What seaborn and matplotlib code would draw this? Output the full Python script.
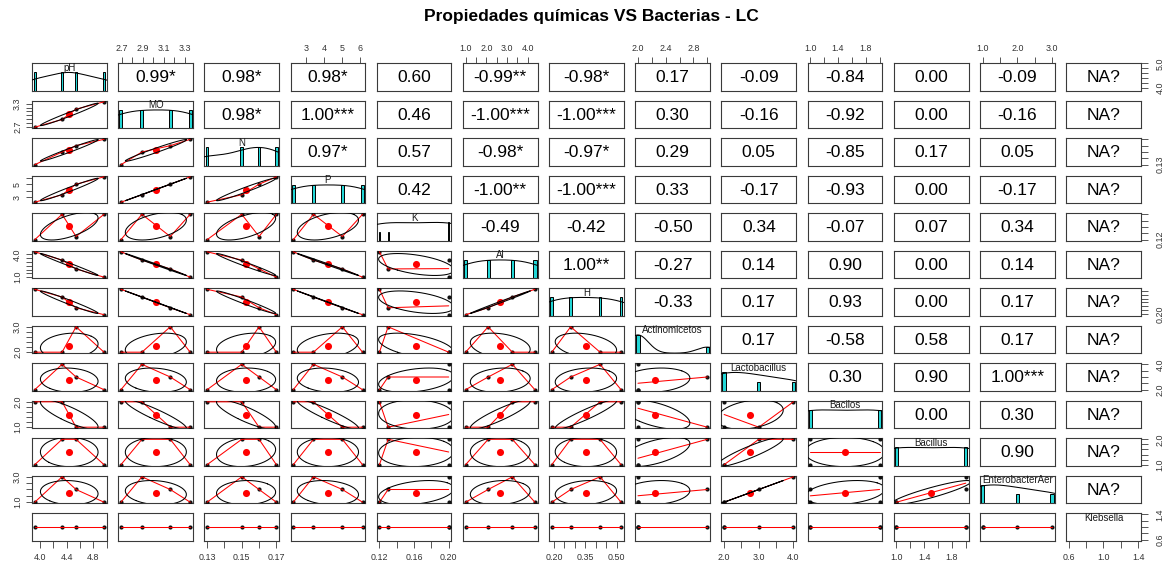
import numpy as np
import matplotlib
matplotlib.use("Agg")
import matplotlib.pyplot as plt
import matplotlib.transforms as mtransforms
from matplotlib.patches import Rectangle
import seaborn as sns

# ---------------------------------------------------------------- data
variables = ["pH", "MO", "N", "P", "K", "Al", "H", "Actinomicetos",
             "Lactobacillus", "Bacilos", "Bacillus", "EnterobacterAer", "Klebsella"]

ph = [3.92, 4.33, 4.54, 4.96]
mo = [2.69, 2.89, 3.16, 3.35]
nitrogen = [0.13, 0.15, 0.16, 0.17]
phosphorus = [2.27, 3.40, 5.02, 6.15]
potassium = [0.12, 0.20, 0.13, 0.20]
aluminium = [4.35, 3.26, 2.09, 1.00]
hydrogen = [0.52, 0.42, 0.28, 0.19]
actinomicetos = [2, 2, 3, 2]
lactobacillus = [2, 4, 3, 2]
bacilos = [2, 2, 1, 1]
bacillus = [1, 2, 2, 1]
enterobacter = [1, 3, 2, 1]
klebsella = [1, 1, 1, 1]

columns = [ph, mo, nitrogen, phosphorus, potassium, aluminium, hydrogen,
           actinomicetos, lactobacillus, bacilos, bacillus, enterobacter, klebsella]

# correlation labels of the upper triangle, row by row
corr_labels = [
    ["0.99*", "0.98*", "0.98*", "0.60", "-0.99**", "-0.98*", "0.17", "-0.09", "-0.84", "0.00", "-0.09", "NA?"],
    ["0.98*", "1.00***", "0.46", "-1.00***", "-1.00***", "0.30", "-0.16", "-0.92", "0.00", "-0.16", "NA?"],
    ["0.97*", "0.57", "-0.98*", "-0.97*", "0.29", "0.05", "-0.85", "0.17", "0.05", "NA?"],
    ["0.42", "-1.00**", "-1.00***", "0.33", "-0.17", "-0.93", "0.00", "-0.17", "NA?"],
    ["-0.49", "-0.42", "-0.50", "0.34", "-0.07", "0.07", "0.34", "NA?"],
    ["1.00**", "-0.27", "0.14", "0.90", "0.00", "0.14", "NA?"],
    ["-0.33", "0.17", "0.93", "0.00", "0.17", "NA?"],
    ["0.17", "-0.58", "0.58", "0.17", "NA?"],
    ["0.30", "0.90", "1.00***", "NA?"],
    ["0.00", "0.30", "NA?"],
    ["0.90", "NA?"],
    ["NA?"],
]

# axis ticks per variable, plus which of them carry a label on the
# horizontal (top/bottom) and on the vertical (left/right) outer axes
tick_values = [
    [4.0, 4.2, 4.4, 4.6, 4.8, 5.0],
    [2.7, 2.8, 2.9, 3.0, 3.1, 3.2, 3.3],
    [0.13, 0.14, 0.15, 0.16, 0.17],
    [3, 4, 5, 6],
    [0.12, 0.14, 0.16, 0.18, 0.20],
    [1.0, 1.5, 2.0, 2.5, 3.0, 3.5, 4.0],
    [0.20, 0.25, 0.30, 0.35, 0.40, 0.45, 0.50],
    [2.0, 2.2, 2.4, 2.6, 2.8, 3.0],
    [2.0, 2.5, 3.0, 3.5, 4.0],
    [1.0, 1.2, 1.4, 1.6, 1.8, 2.0],
    [1.0, 1.2, 1.4, 1.6, 1.8, 2.0],
    [1.0, 1.5, 2.0, 2.5, 3.0],
    [0.6, 0.8, 1.0, 1.2, 1.4],
]
x_tick_labels = [
    ["4.0", "", "4.4", "", "4.8", ""],
    ["2.7", "", "2.9", "", "3.1", "", "3.3"],
    ["0.13", "", "0.15", "", "0.17"],
    ["3", "4", "5", "6"],
    ["0.12", "", "0.16", "", "0.20"],
    ["1.0", "", "2.0", "", "3.0", "", "4.0"],
    ["0.20", "", "", "0.35", "", "", "0.50"],
    ["2.0", "", "2.4", "", "2.8", ""],
    ["2.0", "", "3.0", "", "4.0"],
    ["1.0", "", "1.4", "", "1.8", ""],
    ["1.0", "", "1.4", "", "1.8", ""],
    ["1.0", "", "2.0", "", "3.0"],
    ["0.6", "", "1.0", "", "1.4"],
]
y_tick_labels = [
    ["4.0", "", "", "", "", "5.0"],
    ["2.7", "", "", "", "", "", "3.3"],
    ["0.13", "", "", "", ""],
    ["3", "", "5", ""],
    ["0.12", "", "", "", ""],
    ["1.0", "", "", "", "", "", "4.0"],
    ["0.20", "", "", "", "", "", ""],
    ["2.0", "", "", "", "", "3.0"],
    ["2.0", "", "", "", "4.0"],
    ["1.0", "", "", "", "", "2.0"],
    ["1.0", "", "", "", "", "2.0"],
    ["1.0", "", "", "", "3.0"],
    ["0.6", "", "", "", "1.4"],
]

title = "Propiedades químicas VS Bacterias - LC"


# ---------------------------------------------------------------- helpers
def axis_range(v):
    v = np.asarray(v, float)
    lo, hi = v.min(), v.max()
    if lo == hi:
        t = abs(lo) if lo != 0 else 1.0
        lo, hi = lo - 0.4 * t, hi + 0.4 * t
    pad = 0.04 * (hi - lo)
    return lo - pad, hi + pad


def _lowest(X, Y, n, xs, nleft, nright, w, userw, rw):
    rng = X[n] - X[1]
    h = max(xs - X[nleft], X[nright] - xs)
    h9, h1 = 0.999 * h, 0.001 * h
    a = 0.0
    j = nleft
    while j <= n:
        w[j] = 0.0
        r = abs(X[j] - xs)
        if r <= h9:
            w[j] = 1.0 if r <= h1 else (1 - (r / h) ** 3) ** 3
            if userw:
                w[j] *= rw[j]
            a += w[j]
        elif X[j] > xs:
            break
        j += 1
    nrt = j - 1
    if a <= 0:
        return 0.0, False
    idx = range(nleft, nrt + 1)
    for j in idx:
        w[j] /= a
    if h > 0:
        a = sum(w[j] * X[j] for j in idx)
        b = xs - a
        c = sum(w[j] * (X[j] - a) ** 2 for j in idx)
        if np.sqrt(c) > 0.001 * rng:
            b /= c
            for j in idx:
                w[j] *= b * (X[j] - a) + 1
    return sum(w[j] * Y[j] for j in idx), True


def lowess(x, y, f=2 / 3, nsteps=3):
    """Robust locally weighted smoother (Cleveland's clowess)."""
    x = np.asarray(x, float)
    y = np.asarray(y, float)
    order = np.argsort(x, kind="stable")
    xs_, ys_ = x[order], y[order]
    n = len(xs_)
    delta = 0.01 * (xs_.max() - xs_.min())
    X = np.concatenate([[0.0], xs_])
    Y = np.concatenate([[0.0], ys_])
    fit = np.zeros(n + 1)
    rw = np.ones(n + 1)
    w = np.zeros(n + 1)
    ns = max(2, min(n, int(f * n + 1e-7)))
    it = 1
    while it <= nsteps + 1:
        nleft, nright, last, i = 1, ns, 0, 1
        while True:
            if nright < n:
                d1 = X[i] - X[nleft]
                d2 = X[nright + 1] - X[i]
                if d1 > d2:
                    nleft += 1
                    nright += 1
                    continue
            val, ok = _lowest(X, Y, n, X[i], nleft, nright, w, it > 1, rw)
            fit[i] = val if ok else Y[i]
            if last < i - 1:
                denom = X[i] - X[last]
                for j in range(last + 1, i):
                    alpha = (X[j] - X[last]) / denom
                    fit[j] = alpha * fit[i] + (1 - alpha) * fit[last]
            last = i
            cut = X[last] + delta
            i = last + 1
            while i <= n:
                if X[i] > cut:
                    break
                if X[i] == X[last]:
                    fit[i] = fit[last]
                    last = i
                i += 1
            i = max(last + 1, i - 1)
            if last >= n:
                break
        res = Y[1:] - fit[1:]
        sc = np.mean(np.abs(res))
        if it > nsteps:
            break
        r = np.abs(res)
        srt = np.sort(r)
        m1 = n // 2
        cmad = 3 * (srt[m1] + srt[n - m1 - 1]) if n % 2 == 0 else 6 * srt[m1]
        if cmad < 1e-7 * sc:
            break
        for k in range(n):
            if r[k] <= 0.001 * cmad:
                rw[k + 1] = 1.0
            elif r[k] <= 0.999 * cmad:
                rw[k + 1] = (1 - (r[k] / cmad) ** 2) ** 2
            else:
                rw[k + 1] = 0.0
        it += 1
    return xs_, fit[1:]


def density_curve(v):
    v = np.asarray(v, float)
    q1, q3 = np.percentile(v, [25, 75])
    bw = 1.06 * min(v.std(ddof=1), (q3 - q1) / 1.34) * len(v) ** (-0.2)
    if not bw > 0:
        return None
    grid = np.linspace(v.min() - 3 * bw, v.max() + 3 * bw, 512)
    dens = np.exp(-0.5 * ((grid[:, None] - v[None, :]) / bw) ** 2).sum(axis=1)
    return grid, dens / dens.max()


def correlation_ellipse(x, y, segments=51):
    x = np.asarray(x, float)
    y = np.asarray(y, float)
    xs, ys = x.std(ddof=1), y.std(ddof=1)
    if xs == 0 or ys == 0:
        return None
    r = np.corrcoef(x, y)[0, 1]
    theta = (np.sign(r) if abs(r) > 0 else 1.0) / np.sqrt(2)
    ang = np.arange(segments + 1) * 2 * np.pi / segments
    circle = np.column_stack([np.cos(ang), np.sin(ang)])
    shape = np.diag([np.sqrt(1 + r), np.sqrt(1 - r)]) @ np.array([[theta, theta], [-theta, theta]])
    e = circle @ shape
    return x.mean(), y.mean(), e[:, 0] * xs + x.mean(), e[:, 1] * ys + y.mean()


# ---------------------------------------------------------------- figure
sns.set_theme(style="white")
plt.rcParams["font.family"] = ["Liberation Sans", "DejaVu Sans"]

W, H = 1166, 565
fig = plt.figure(figsize=(W / 100, H / 100), dpi=100)
fig.patch.set_facecolor("white")

X0, XP, PW = 32.0, 86.17, 74.8
Y0, YP, PHT = 63.3, 37.5, 27.4
PX = 0.72  # points per pixel

frame_color = "#3a3a3a"
tick_color = "#3a3a3a"
label_color = "#333333"
hist_color = "#22d6d6"
nvar = len(variables)

for i in range(nvar):
    for j in range(nvar):
        left = X0 + j * XP
        top = Y0 + i * YP
        ax = fig.add_axes([left / W, 1 - (top + PHT) / H, PW / W, PHT / H])
        ax.set_facecolor("white")
        ax.grid(False)
        for sp in ax.spines.values():
            sp.set_visible(True)
            sp.set_color(frame_color)
            sp.set_linewidth(0.8)

        xr = axis_range(columns[j])
        yr = axis_range(columns[i])
        ax.set_xlim(*xr)
        ax.set_ylim(*yr)

        xv = np.asarray(columns[j], float)
        yv = np.asarray(columns[i], float)

        if i == j:
            # histogram of the distinct values with a scaled density curve
            trans = mtransforms.blended_transform_factory(ax.transData, ax.transAxes)
            vals, counts = np.unique(xv, return_counts=True)
            if len(vals) > 1:
                half = np.min(np.diff(vals)) * (len(vals) - 1) / 41
                hts = counts / counts.max()
                for v, hgt in zip(vals, hts):
                    ax.add_patch(Rectangle((v - half, 0), 2 * half, hgt / 1.5,
                                           transform=trans, facecolor=hist_color,
                                           edgecolor="black", linewidth=0.7, zorder=2))
                dc = density_curve(xv)
                if dc is not None:
                    ax.plot(dc[0], dc[1] / 1.5, color="black", lw=0.75,
                            transform=trans, zorder=3)
            ax.text(0.5, 0.833, variables[i], transform=ax.transAxes,
                    ha="center", va="center", fontsize=7, color="#1a1a1a", zorder=4)
        elif i < j:
            ax.text(0.5, 0.47, corr_labels[i][j - i - 1], transform=ax.transAxes,
                    ha="center", va="center", fontsize=12.5, color="black")
        else:
            sns.scatterplot(x=xv, y=yv, ax=ax, color="#111111", s=9,
                            linewidth=0, legend=False, zorder=3)
            lx, ly = lowess(xv, yv)
            ax.plot(lx, ly, color="#ff0000", lw=0.75, zorder=4)
            ell = correlation_ellipse(xv, yv)
            if ell is not None:
                mx, my, ex, ey = ell
                ax.scatter([mx], [my], s=26, color="#ff0000", linewidth=0, zorder=5)
                ax.plot(ex, ey, color="black", lw=0.75, zorder=6)

        # outer axes
        ax.set_xticks(tick_values[j])
        ax.set_yticks(tick_values[i])
        show_bottom = (i == nvar - 1) and (j % 2 == 0)
        show_top = (i == 0) and (j % 2 == 1)
        show_left = (j == 0) and (i % 2 == 1)
        show_right = (j == nvar - 1) and (i % 2 == 0)

        ax.set_xticklabels(x_tick_labels[j])
        ax.set_yticklabels(y_tick_labels[i])
        ax.tick_params(axis="both", which="both", direction="out",
                       length=6.5 * PX, width=0.6, color=tick_color,
                       labelsize=6.4, labelcolor=label_color)
        ax.tick_params(axis="x", bottom=show_bottom, labelbottom=show_bottom,
                       top=show_top, labeltop=show_top)
        ax.tick_params(axis="y", left=show_left, labelleft=show_left,
                       right=show_right, labelright=show_right, labelrotation=90)
        if show_bottom:
            ax.tick_params(axis="x", pad=5.7 * PX)
        if show_top:
            ax.tick_params(axis="x", pad=3.7 * PX)
        if show_left:
            ax.tick_params(axis="y", pad=3.4 * PX)
            for t in ax.get_yticklabels():
                t.set_va("center")
        if show_right:
            ax.tick_params(axis="y", pad=8.0 * PX)
            for t in ax.get_yticklabels():
                t.set_va("center")

fig.text((X0 + (X0 + 12 * XP + PW)) / 2 / W + 0.004, 1 - 17 / H, title,
         ha="center", va="center", fontsize=12.5, fontweight="bold", color="black")

fig.savefig("out.png", dpi=100, facecolor="white")
